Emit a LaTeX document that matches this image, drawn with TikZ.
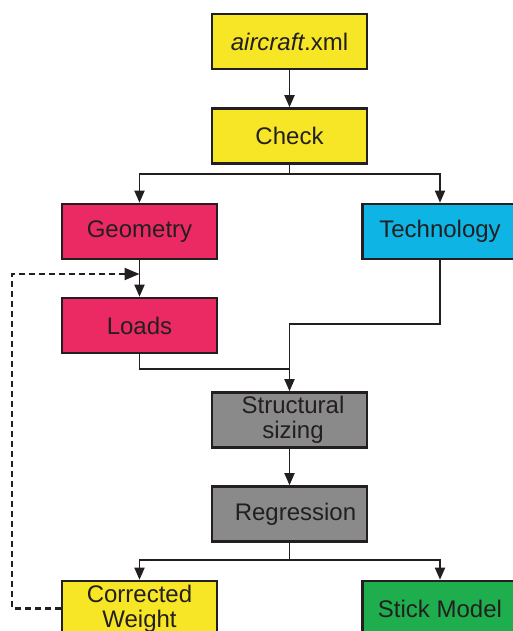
\documentclass[tikz,border=0pt]{standalone}
\usepackage{fontspec}
\setmainfont{Liberation Sans}
\usetikzlibrary{arrows.meta}
\definecolor{boxyellow}{HTML}{F6E625}
\definecolor{boxpink}{HTML}{EB2A64}
\definecolor{boxcyan}{HTML}{0EB4E4}
\definecolor{boxgray}{HTML}{8A8A8A}
\definecolor{boxgreen}{HTML}{1EAE4D}
\definecolor{ink}{HTML}{231F20}
\tikzset{
  stage/.style={draw=ink, line width=2.6pt, minimum width=155pt, minimum height=55pt,
    inner sep=0pt, align=center, text=ink, font=\fontsize{24}{25}\selectfont},
  flow/.style={draw=ink, line width=1.8pt},
  flowarr/.style={flow, -{Triangle[length=12pt,width=10pt]}},
  feedback/.style={draw=ink, line width=2.2pt, dash pattern=on 6pt off 4pt,
    -{Triangle[length=15pt,width=12pt]}}
}
\begin{document}
\begin{tikzpicture}[x=1pt,y=-1pt]
  \useasboundingbox (0,0) rectangle (513,631);
  \clip (0,0) rectangle (513,631);

  % process stages
  \node[stage, fill=boxyellow] (xml)    at (289.5, 41.5) {\textit{aircraft}.xml};
  \node[stage, fill=boxyellow] (check)  at (289.5, 136)  {Check};
  \node[stage, fill=boxpink]   (geom)   at (139.5, 231.5) {Geometry};
  \node[stage, fill=boxcyan]   (tech)   at (440, 231.5)  {Technology};
  \node[stage, fill=boxpink]   (loads)  at (139.5, 325.5) {Loads};
  \node[stage, fill=boxgray]   (struct) at (289.5, 420)
    {\hspace*{7pt}Structural\\\hspace*{7pt}sizing};
  \node[stage, fill=boxgray]   (regr)   at (289.5, 514)  {\hspace*{12pt}Regression};
  \node[stage, fill=boxyellow] (corr)   at (139.5, 608.5) {Corrected\\Weight};
  \node[stage, fill=boxgreen]  (stick)  at (440, 608.5)  {Stick Model};

  % branch and merge points
  \coordinate (split1) at (289.5, 174);
  \coordinate (merge)  at (289.5, 324);
  \coordinate (join)   at (289.5, 369);
  \coordinate (split2) at (289.5, 560);
  \coordinate (fbcorner) at (12, 274);
  \coordinate (fbend)  at (139.5, 274);

  % connectors
  \draw[flowarr] (xml) -- (check);
  \draw[flow] (check) -- (split1);
  \draw[flowarr] (split1) -| (geom);
  \draw[flowarr] (split1) -| (tech);
  \draw[flowarr] (geom) -- (loads);
  \draw[flow] (loads.south) |- (join);
  \draw[flowarr] (tech.south) |- (merge) -- (struct.north);
  \draw[flowarr] (struct) -- (regr);
  \draw[flow] (regr) -- (split2);
  \draw[flowarr] (split2) -| (corr);
  \draw[flowarr] (split2) -| (stick);

  % weight feedback loop
  \draw[feedback] (corr.west) -| (fbcorner) -- (fbend);
\end{tikzpicture}
\end{document}
